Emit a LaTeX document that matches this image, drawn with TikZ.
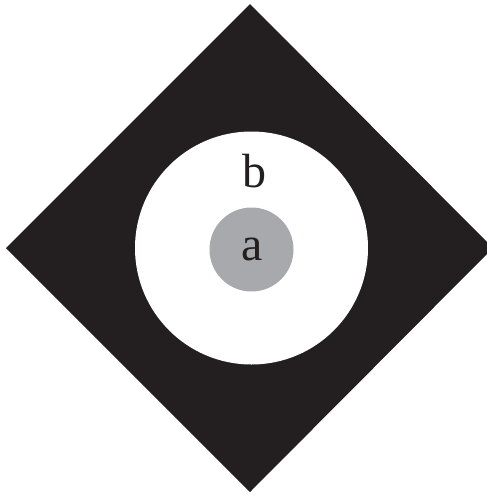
\documentclass[tikz,border=0pt]{standalone}
\usepackage{fontspec}
\setmainfont{Liberation Serif}
\definecolor{ink}{HTML}{231F20}
\definecolor{disk}{HTML}{A7A9AC}
\begin{document}
\begin{tikzpicture}[x=1pt,y=-1pt,
  lbl/.style={text=ink,font=\fontsize{48}{48}\selectfont,anchor=base,inner sep=0pt}]
\useasboundingbox (0,0) rectangle (487,496);
\fill[ink] (250,4) -- (493,248) -- (250,492) -- (6,248) -- cycle;
\fill[white] (251.5,248) circle[radius=116.5];
\fill[disk] (251.5,249.5) circle[radius=42];
\node[lbl] (a) at (252,260) {a};
\node[lbl] (b) at (254,187) {b};
\end{tikzpicture}
\end{document}
